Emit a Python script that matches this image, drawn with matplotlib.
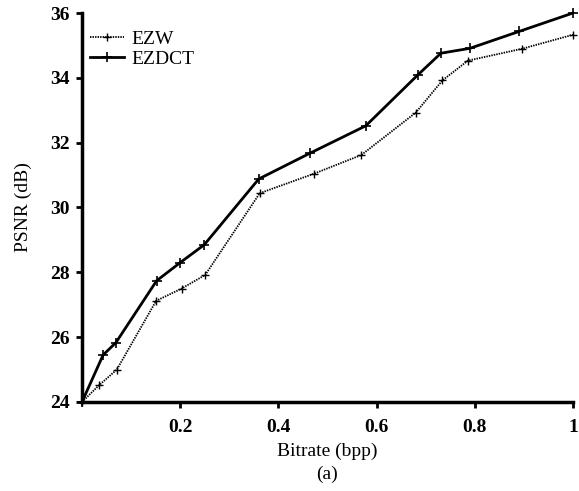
import numpy as np
import matplotlib
matplotlib.use('Agg')
import matplotlib.pyplot as plt

matplotlib.rcParams['font.family'] = 'Liberation Serif'
matplotlib.rcParams['xtick.direction'] = 'out'
matplotlib.rcParams['ytick.direction'] = 'out'

#%% data
rate_ezw = [0.0, 0.035, 0.071, 0.151, 0.203, 0.251, 0.362, 0.472, 0.569,
            0.680, 0.734, 0.786, 0.897, 1.0]
psnr_ezw = [24.0, 24.52, 25.0, 27.12, 27.5, 27.92, 30.44, 31.04, 31.62,
            32.93, 33.92, 34.53, 34.90, 35.33]
rate_ezdct = [0.0, 0.043, 0.069, 0.152, 0.200, 0.249, 0.360, 0.465, 0.578,
              0.684, 0.731, 0.790, 0.890, 1.0]
psnr_ezdct = [24.0, 25.45, 25.83, 27.74, 28.30, 28.85, 30.88, 31.68, 32.52,
              34.09, 34.76, 34.91, 35.43, 36.0]

fig = plt.figure(figsize=(5.79, 4.91), dpi=100)
ax = fig.add_axes([0.1416, 0.1813, 0.848, 0.7922])

ax.plot(rate_ezw, psnr_ezw, color='k', linestyle=(0, (0.8, 0.6)), linewidth=1.3,
        marker='+', markersize=6, markeredgewidth=1.0, label='EZW', clip_on=False)
ax.plot(rate_ezdct, psnr_ezdct, color='k', linestyle='-', linewidth=2.0,
        marker='+', markersize=7, markeredgewidth=1.2, label='EZDCT', clip_on=False)

ax.set_xlim(0, 1)
ax.set_ylim(24, 36)
ax.set_xticks([0.2, 0.4, 0.6, 0.8, 1.0])
ax.set_xticklabels(['0.2', '0.4', '0.6', '0.8', '1'])
ax.set_yticks(np.arange(24, 37, 2))
for lab in ax.get_xticklabels() + ax.get_yticklabels():
    lab.set_fontweight('bold')
    lab.set_fontsize(14)
ax.tick_params(axis='x', width=2, length=4, pad=8)
ax.tick_params(axis='y', width=2, length=4, pad=5)

for s in ['top', 'right']:
    ax.spines[s].set_visible(False)
for s in ['left', 'bottom']:
    ax.spines[s].set_linewidth(2.5)

ax.set_xlabel('Bitrate (bpp)\n(a)', fontsize=14, labelpad=5, linespacing=1.45)
ax.set_ylabel('PSNR (dB)', fontsize=14, labelpad=13)

ax.legend(loc='upper left', frameon=False, fontsize=14, handlelength=1.75,
          handletextpad=0.4, borderaxespad=0.0, labelspacing=0.1,
          bbox_to_anchor=(0.0, 0.975))

plt.savefig('out.png', dpi=100)
